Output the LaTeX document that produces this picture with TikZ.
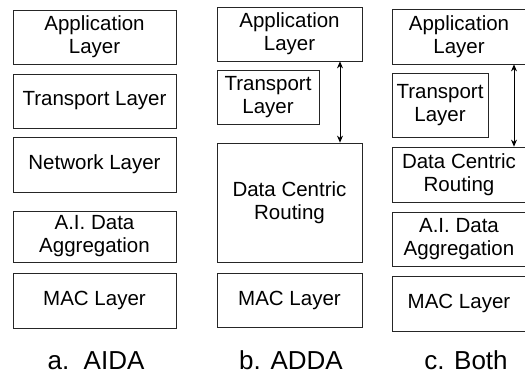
\documentclass[tikz,border=0pt]{standalone}
\usepackage{fontspec}
\setmainfont{Liberation Sans}
\usetikzlibrary{arrows.meta}
\begin{document}
\begin{tikzpicture}[x=1pt,y=-1pt,
  box/.style={draw=black!85, line width=0.8pt, inner sep=0pt, align=center,
    font=\fontsize{20.5}{23}\selectfont},
  lbl/.style={anchor=base, inner sep=0pt, font=\fontsize{26}{30}\selectfont},
  arr/.style={{Stealth[length=7pt,width=6pt]}-{Stealth[length=7pt,width=6pt]}, line width=0.8pt}]
\useasboundingbox (0,0) rectangle (525,379);
% column a
\node[box, minimum width=163pt, minimum height=54pt] (aApp) at (94.5,37) {Application\\Layer};
\node[box, minimum width=163pt, minimum height=54pt] (aTrans) at (94.5,101) {Transport Layer};
\node[box, minimum width=163pt, minimum height=55pt] (aNet) at (94.5,164.5) {Network Layer};
\node[box, minimum width=163pt, minimum height=51pt] (aAI) at (94.5,236.5) {A.I. Data\\Aggregation};
\node[box, minimum width=163pt, minimum height=55pt] (aMAC) at (94.5,300.5) {MAC Layer};
% column b
\node[box, minimum width=145pt, minimum height=54pt] (bApp) at (289.5,34) {Application\\Layer};
\node[box, minimum width=102pt, minimum height=54pt] (bTrans) at (268,97) {Transport\\Layer};
\node[box, minimum width=145pt, minimum height=119pt] (bDCR) at (289.5,202.5) {Data Centric\\Routing};
\node[box, minimum width=145pt, minimum height=54pt] (bMAC) at (289.5,300) {MAC Layer};
\coordinate (bX) at (340,0);
\draw[arr] (bApp.south -| bX) -- (bDCR.north -| bX);
% column c
\node[box, minimum width=134pt, minimum height=55pt] (cApp) at (459,36.5) {Application\\Layer};
\node[box, minimum width=96pt, minimum height=64pt] (cTrans) at (440,105) {Transport\\Layer};
\node[box, minimum width=134pt, minimum height=55pt] (cDCR) at (459,174.5) {Data Centric\\Routing};
\node[box, minimum width=134pt, minimum height=54pt] (cAI) at (459,239) {A.I. Data\\Aggregation};
\node[box, minimum width=134pt, minimum height=55pt] (cMAC) at (459,303.5) {MAC Layer};
\coordinate (cX) at (514,0);
\draw[arr] (cApp.south -| cX) -- (cDCR.north -| cX);
% labels
\node[lbl] (aL) at (96,370) {a.\ \ AIDA};
\node[lbl] (bL) at (291,370) {b. ADDA};
\node[lbl] (cL) at (466,370) {c. Both};
\end{tikzpicture}
\end{document}
